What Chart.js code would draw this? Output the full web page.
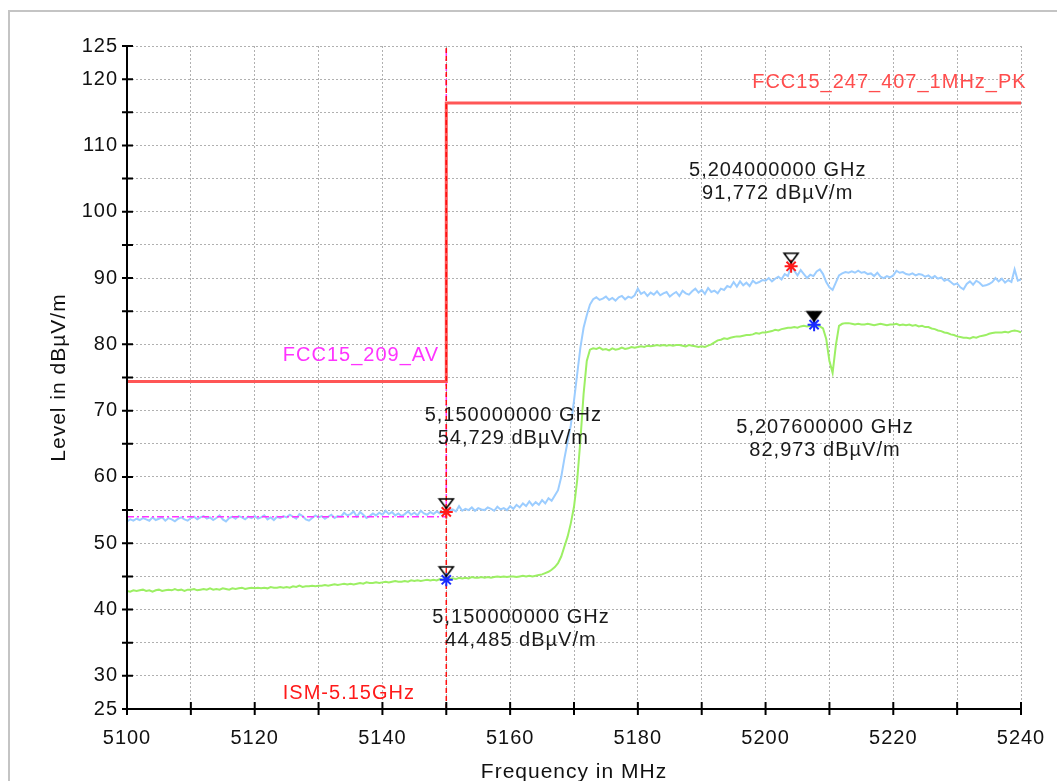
<!DOCTYPE html>
<html><head><meta charset="utf-8">
<script src="https://cdn.jsdelivr.net/npm/chart.js@4.4.0/dist/chart.umd.min.js"></script>
<style>
html,body{margin:0;padding:0;background:#fff;overflow:hidden;width:1057px;height:781px}
#frame{position:absolute;left:8px;top:10px;width:1200px;height:900px;border:2px solid #c4c4c4;box-sizing:border-box}
#wrap{position:absolute;left:0;top:0;width:1057px;height:800px}
</style></head><body>
<div id="frame"></div>
<div id="wrap"><canvas id="c" width="1057" height="800"></canvas></div>
<script>
// ---- sweep definition ----
const sweepStartMHz = 5100;
const sweepStepMHz = 0.5;

// ---- Peak trace (light blue), dBµV/m, one value per 0.5 MHz from 5100 to 5240 ----
const peakLevel = [
 53.3,53.6,53.4,53.7,53.5,53.8,53.6,53.4,53.9,53.5,
 53.7,53.9,53.4,53.8,53.6,53.3,53.7,53.9,53.6,53.4,
 53.8,54.0,53.6,53.9,54.1,53.7,53.9,53.5,53.8,54.2,
 53.6,53.3,53.8,54.0,53.7,54.1,53.9,53.6,54.0,53.8,
 54.1,53.7,53.9,54.2,53.6,53.9,53.5,54.0,53.8,54.1,
 53.9,54.3,54.0,53.7,54.4,54.1,53.6,53.4,53.8,54.2,
 53.9,54.1,53.7,54.0,54.3,53.8,54.1,54.0,54.6,54.2,
 54.4,54.8,54.0,54.7,54.3,53.8,54.1,54.5,54.2,54.6,
 54.3,54.9,54.4,54.7,54.2,54.5,54.1,54.4,54.8,54.3,
 54.6,54.2,54.9,54.5,54.3,54.7,54.4,54.8,54.5,54.6,
 54.73,54.9,55.1,54.8,55.6,54.9,55.2,55.0,55.4,54.9,
 55.3,55.1,55.0,55.4,55.2,54.9,55.5,55.1,55.3,55.0,
 55.6,55.2,55.8,55.4,56.0,55.6,56.3,55.7,56.2,55.8,
 56.5,56.0,56.8,56.4,57.2,58.0,60.0,62.8,65.3,67.8,
 71.5,75.5,79.5,82.5,84.4,86.0,86.8,87.1,86.7,86.9,
 87.2,86.7,87.0,86.6,87.1,87.3,86.8,87.2,87.0,87.4,
 88.4,87.6,87.9,87.3,87.8,87.5,88.0,87.4,87.7,87.9,
 87.2,87.6,87.9,87.3,88.1,87.7,87.5,88.0,88.4,87.8,
 88.2,87.6,88.5,87.9,88.1,87.7,88.4,88.2,88.8,88.6,
 89.4,88.7,89.5,88.9,89.3,88.8,89.6,89.2,89.4,89.7,
 89.6,90.0,89.5,89.9,90.2,89.8,90.6,90.3,91.77,91.1,
 90.4,91.2,90.6,90.0,90.5,90.3,91.0,91.3,90.6,89.4,
 88.6,88.2,89.3,90.4,90.7,90.9,90.8,91.0,90.8,91.1,
 90.8,90.9,90.6,90.7,90.3,90.8,90.2,90.0,90.3,90.1,
 90.4,91.1,90.8,90.9,90.6,90.5,90.7,90.4,90.6,90.5,
 90.2,90.4,90.0,90.3,89.9,90.1,89.6,89.8,89.4,89.0,
 89.2,88.6,88.3,89.1,89.5,89.0,89.6,89.3,88.8,88.9,
 89.1,89.4,90.0,89.5,89.9,89.3,89.7,89.4,91.3,89.6,
 89.8
];

// ---- Average trace (green), dBµV/m, one value per 0.5 MHz ----
const avgLevel = [
 42.8,42.7,42.9,42.8,42.9,43.0,42.8,42.9,42.7,42.9,
 43.0,42.8,42.9,43.0,42.9,43.1,42.9,43.0,42.8,43.0,
 43.0,43.1,42.9,43.0,43.1,43.0,43.2,43.0,43.1,43.0,
 43.2,43.1,43.0,43.2,43.1,43.2,43.3,43.1,43.2,43.3,
 43.2,43.3,43.2,43.3,43.2,43.4,43.3,43.3,43.4,43.3,
 43.4,43.3,43.5,43.4,43.6,43.4,43.5,43.5,43.6,43.5,
 43.6,43.6,43.7,43.6,43.7,43.8,43.7,43.8,43.9,43.8,
 43.9,43.8,43.9,44.0,43.9,44.1,44.0,44.0,44.1,44.0,
 44.1,44.2,44.1,44.2,44.3,44.2,44.2,44.3,44.2,44.4,
 44.3,44.4,44.3,44.4,44.5,44.4,44.5,44.4,44.6,44.5,
 44.49,44.6,44.7,44.6,44.8,44.7,44.8,44.7,44.9,44.8,
 44.8,44.9,44.8,44.9,44.8,44.9,45.0,44.9,45.0,44.9,
 45.0,45.0,44.9,45.0,45.1,45.0,45.1,45.0,45.1,45.2,
 45.3,45.5,45.7,46.0,46.4,47.0,48.0,49.5,51.0,53.0,
 55.5,59.5,65.5,72.5,77.5,79.2,79.4,79.3,79.5,79.2,
 79.3,79.1,79.4,79.2,79.3,79.5,79.3,79.4,79.6,79.5,
 79.6,79.7,79.6,79.8,79.7,79.8,79.9,79.8,79.9,79.8,
 79.9,79.8,79.9,79.9,79.8,79.7,79.9,79.8,79.7,79.6,
 79.7,79.6,79.8,80.0,80.3,80.6,80.7,80.9,80.8,81.0,
 81.1,81.2,81.2,81.3,81.4,81.4,81.5,81.7,81.6,81.8,
 81.8,81.9,82.0,82.2,82.1,82.3,82.4,82.5,82.5,82.6,
 82.5,82.7,82.8,82.7,82.8,82.97,82.9,82.7,82.4,80.8,
 77.5,75.7,79.8,82.8,83.1,83.2,83.2,83.1,83.0,83.1,
 83.0,83.0,83.1,83.0,82.9,83.0,83.1,83.0,82.9,83.0,
 83.0,83.1,82.9,83.0,82.9,83.0,82.8,82.9,82.7,82.8,
 82.6,82.6,82.4,82.3,82.1,82.0,81.8,81.7,81.5,81.4,
 81.2,81.1,81.0,81.0,80.9,81.1,81.0,81.2,81.3,81.4,
 81.6,81.7,81.8,81.8,81.8,81.9,81.8,82.0,82.1,82.0,
 81.8
];

// ---- Limit lines ----
const limitPkFreq  = [5100, 5150, 5150, 5240];
const limitPkLevel = [74.4, 74.4, 116.4, 116.4];
const limitAvFreq  = [5100, 5150, 5150];
const limitAvLevel = [54, 54, 125];
const ismFreq  = [5150, 5150];
const ismLevel = [25, 125];

// ---- Markers ----
const markerFreq   = [5150, 5150, 5204, 5207.6];
const markerLevel  = [54.729, 44.485, 91.772, 82.973];
const markerTrace  = ['PK', 'AV', 'PK', 'AV'];
const markerActive = [false, false, false, true];

// ---- Axis ticks ----
const xMin = 5100, xMax = 5240, xStep = 10, xLabelEvery = 20;
const yMin = 25, yMax = 125, yStep = 5;
const yLabelled = [25, 30, 40, 50, 60, 70, 80, 90, 100, 110, 120, 125];

// ---- Texts ----
const limitLabels = [
  {text: 'FCC15_247_407_1MHz_PK', color: '#ff4d4d', align: 'left', at: {x: 5197.9, y: 119.5}},
  {text: 'FCC15_209_AV', color: '#ff33ff', align: 'left', at: {x: 5124.4, y: 78.3}},
  {text: 'ISM-5.15GHz', color: '#ff1a1a', align: 'left', at: {x: 5124.4, y: 27.3}}
];
const readoutAt = [{x: 5160.5, y: 67.6}, {x: 5161.7, y: 37.1}, {x: 5201.9, y: 104.5}, {x: 5209.3, y: 65.8}];

const FONT = '"Liberation Sans", Arial, sans-serif';
const sweepFreq = peakLevel.map((_, i) => sweepStartMHz + i * sweepStepMHz);
const pts = (xs, ys) => xs.map((x, i) => ({x: x, y: ys[i]}));

function makeTri(filled) {
  const c = document.createElement('canvas'); c.width = 18; c.height = 32;
  const g = c.getContext('2d');
  g.beginPath(); g.moveTo(2, 3); g.lineTo(16, 3); g.lineTo(9, 12.5); g.closePath();
  g.lineWidth = 1.6; g.strokeStyle = '#000';
  if (filled) { g.fillStyle = '#000'; g.fill(); }
  g.stroke();
  return c;
}
const triOpen = makeTri(false), triFilled = makeTri(true);

const pkIdx = markerTrace.map((t, i) => t === 'PK' ? i : -1).filter(i => i >= 0);
const avIdx = markerTrace.map((t, i) => t === 'AV' ? i : -1).filter(i => i >= 0);

const spacingPlugin = {
  id: 'spacing',
  beforeLayout(chart) { chart.ctx.letterSpacing = '1px'; },
  beforeDraw(chart) { chart.ctx.letterSpacing = '1px'; }
};

const decorPlugin = {
  id: 'decor',
  afterDatasetsDraw(chart) {
    const {ctx, scales: {x, y}} = chart;
    ctx.save();
    ctx.letterSpacing = '1px';
    ctx.font = '20px ' + FONT;
    ctx.textBaseline = 'middle';
    limitLabels.forEach(l => {
      ctx.fillStyle = l.color; ctx.textAlign = l.align;
      ctx.fillText(l.text, x.getPixelForValue(l.at.x), y.getPixelForValue(l.at.y));
    });
    ctx.fillStyle = '#1a1a1a'; ctx.textAlign = 'center';
    markerFreq.forEach((f, i) => {
      const px = x.getPixelForValue(readoutAt[i].x), py = y.getPixelForValue(readoutAt[i].y);
      const l1 = (f / 1000).toFixed(9).replace('.', ',') + ' GHz';
      const l2 = markerLevel[i].toFixed(3).replace('.', ',') + ' dBµV/m';
      ctx.fillText(l1, px, py - 11.5);
      ctx.fillText(l2, px, py + 11.5);
    });
    ctx.restore();
  },
  afterDraw(chart) {
    const {ctx, scales: {x, y}, chartArea: a} = chart;
    ctx.save();
    ctx.strokeStyle = '#000'; ctx.lineWidth = 2; ctx.setLineDash([]);
    ctx.beginPath();
    ctx.moveTo(a.left, a.top - 1); ctx.lineTo(a.left, a.bottom);
    ctx.lineTo(a.right + 1, a.bottom);
    y.ticks.forEach(t => { const p = y.getPixelForValue(t.value); ctx.moveTo(a.left - 5, p); ctx.lineTo(a.left + 6, p); });
    x.ticks.forEach(t => { const p = x.getPixelForValue(t.value); ctx.moveTo(p, a.bottom - 7); ctx.lineTo(p, a.bottom + 6); });
    ctx.stroke();
    ctx.restore();
  }
};

new Chart(document.getElementById('c'), {
  type: 'line',
  data: {
    datasets: [
      { label: 'marker flags', data: pts(markerFreq, markerLevel), showLine: false,
        pointStyle: markerActive.map(a => a ? triFilled : triOpen), pointRadius: 8 },
      { label: 'PK markers', data: pkIdx.map(i => ({x: markerFreq[i], y: markerLevel[i]})), showLine: false,
        pointStyle: 'star', pointRadius: 6.5, borderColor: '#ff1a1a', borderWidth: 2 },
      { label: 'AV markers', data: avIdx.map(i => ({x: markerFreq[i], y: markerLevel[i]})), showLine: false,
        pointStyle: 'star', pointRadius: 6.5, borderColor: '#1a2bff', borderWidth: 2 },
      { label: 'ISM-5.15GHz', data: pts(ismFreq, ismLevel), borderColor: '#ff1010', borderWidth: 1.5,
        borderDash: [5, 3], pointRadius: 0 },
      { label: 'FCC15_247_407_1MHz_PK', data: pts(limitPkFreq, limitPkLevel), borderColor: '#ff5656',
        borderWidth: 3, pointRadius: 0 },
      { label: 'FCC15_209_AV', data: pts(limitAvFreq, limitAvLevel), borderColor: '#ff33ff',
        borderWidth: 1.5, borderDash: [7, 3, 2, 3], pointRadius: 0 },
      { label: 'PK trace', data: pts(sweepFreq, peakLevel), borderColor: '#9ccdff', borderWidth: 2, pointRadius: 0 },
      { label: 'AV trace', data: pts(sweepFreq, avgLevel), borderColor: '#9cef64', borderWidth: 2, pointRadius: 0 }
    ]
  },
  options: {
    responsive: false, animation: false, devicePixelRatio: 1,
    layout: {padding: {top: 46, right: 36, left: 0, bottom: 0}},
    plugins: {legend: {display: false}, tooltip: {enabled: false}},
    elements: {line: {tension: 0, fill: false}},
    scales: {
      x: {
        type: 'linear', min: xMin, max: xMax,
        ticks: {stepSize: xStep, autoSkip: false, maxRotation: 0, padding: 17, color: '#111',
          font: {family: FONT, size: 20},
          callback: v => (v % xLabelEvery === 0 ? String(v) : '')},
        grid: {color: '#b0b0b0', lineWidth: 1, drawTicks: false},
        border: {display: true, color: '#000', width: 2, dash: [2, 2]},
        title: {display: true, text: 'Frequency in MHz', color: '#111', font: {family: FONT, size: 21},
          padding: {top: 0, bottom: 15}},
        afterFit(s) { s.height = 91; s.paddingLeft = 0; s.paddingRight = 0; }
      },
      y: {
        type: 'linear', min: yMin, max: yMax,
        ticks: {stepSize: yStep, autoSkip: false, padding: 9, color: '#111',
          font: {family: FONT, size: 20},
          callback: v => (yLabelled.includes(v) ? String(v) : '')},
        grid: {color: '#b0b0b0', lineWidth: 1, drawTicks: false},
        border: {display: true, color: '#000', width: 2, dash: [2, 2]},
        title: {display: true, text: 'Level in dBµV/m', color: '#111', font: {family: FONT, size: 21},
          padding: {top: 47, bottom: 0}},
        afterFit(s) { s.width = 127; s.paddingTop = 0; s.paddingBottom = 0; }
      }
    }
  },
  plugins: [spacingPlugin, decorPlugin]
});
</script></body></html>
